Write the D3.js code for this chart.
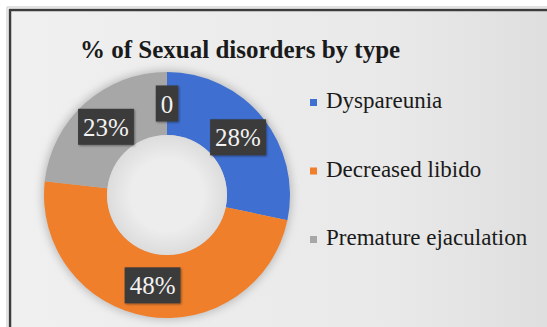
<!DOCTYPE html>
<html>
<head>
<meta charset="utf-8">
<script src="https://cdn.jsdelivr.net/npm/d3@7"></script>
<style>
  body { margin: 0; background: #fff; }
  svg { display: block; }
</style>
</head>
<body>
<div id="chart"></div>
<script>
const width = 547;
const height = 327;

const title = "% of Sexual disorders by type";
const categories = ["Dyspareunia", "Decreased libido", "Premature ejaculation", ""];
const values = [28, 48, 23, 0];
const labels = ["28%", "48%", "23%", "0"];
const colors = ["#3f6fd1", "#f07f2c", "#a7a7a7", "#a7a7a7"];

const cx = 167;
const cy = 195;
const outerR = 123;
const innerR = 60;
const font = "Liberation Serif";

const svg = d3
  .select("#chart")
  .append("svg")
  .attr("width", width)
  .attr("height", height);

const defs = svg.append("defs");

const bg = defs
  .append("linearGradient")
  .attr("id", "bg")
  .attr("x1", 0)
  .attr("x2", 1)
  .attr("y1", 0)
  .attr("y2", 0);
bg.append("stop").attr("offset", "0%").attr("stop-color", "#f0f0f0");
bg.append("stop").attr("offset", "70%").attr("stop-color", "#e9e9e9");
bg.append("stop").attr("offset", "100%").attr("stop-color", "#dedede");

const hole = defs.append("radialGradient").attr("id", "hole");
hole.append("stop").attr("offset", "60%").attr("stop-color", "#ededed");
hole.append("stop").attr("offset", "100%").attr("stop-color", "#dcdcdc");

const blur = defs
  .append("filter")
  .attr("id", "blur")
  .attr("x", "-20%")
  .attr("y", "-20%")
  .attr("width", "140%")
  .attr("height", "140%");
blur.append("feGaussianBlur").attr("stdDeviation", 4);

const boxShadow = defs.append("filter").attr("id", "boxShadow");
boxShadow
  .append("feDropShadow")
  .attr("dx", 1)
  .attr("dy", 1)
  .attr("stdDeviation", 1)
  .attr("flood-color", "#000")
  .attr("flood-opacity", 0.4);

// frame
svg
  .append("rect")
  .attr("x", 9)
  .attr("y", 9)
  .attr("width", width)
  .attr("height", height)
  .attr("fill", "url(#bg)");
svg
  .append("path")
  .attr("d", `M10,${height} V10 H${width}`)
  .attr("fill", "none")
  .attr("stroke", "#3c3c3c")
  .attr("stroke-width", 2.5);
svg
  .append("path")
  .attr("d", `M7,${height} V7 H${width}`)
  .attr("fill", "none")
  .attr("stroke", "#c8c8c8")
  .attr("stroke-width", 1);

svg
  .append("text")
  .attr("x", 80)
  .attr("y", 58)
  .attr("font-family", font)
  .attr("font-weight", "bold")
  .attr("font-size", 25)
  .attr("fill", "#1a1a1a")
  .text(title);

const pie = d3.pie().sort(null).value((d) => d);
const arcs = pie(values);

const arc = d3.arc().innerRadius(innerR).outerRadius(outerR);
const labelArc = d3
  .arc()
  .innerRadius((innerR + outerR) / 2)
  .outerRadius((innerR + outerR) / 2);

const g = svg.append("g").attr("transform", `translate(${cx},${cy})`);

// soft shadow round the ring
g.append("circle")
  .attr("r", outerR + 2)
  .attr("fill", "#bdbdbd")
  .attr("filter", "url(#blur)");

g.selectAll(".slice")
  .data(arcs)
  .join("path")
  .classed("slice", true)
  .attr("d", arc)
  .attr("fill", (d, i) => colors[i]);

g.append("circle").attr("r", innerR).attr("fill", "url(#hole)");

const label = g
  .selectAll(".label")
  .data(arcs)
  .join("g")
  .classed("label", true)
  .attr("transform", (d) => `translate(${labelArc.centroid(d)})`);

label
  .append("text")
  .attr("text-anchor", "middle")
  .attr("dy", "0.36em")
  .attr("font-family", font)
  .attr("font-size", 25)
  .attr("fill", "#f2f2f2")
  .text((d, i) => labels[i]);

label.each(function () {
  const t = d3.select(this).select("text");
  const b = t.node().getBBox();
  d3.select(this)
    .insert("rect", "text")
    .attr("x", b.x - 5)
    .attr("y", -18)
    .attr("width", b.width + 10)
    .attr("height", 36)
    .attr("fill", "#3a3a3a")
    .attr("filter", "url(#boxShadow)");
});

const legendItems = categories.filter((c) => c !== "");
const legendY = d3
  .scalePoint()
  .domain(legendItems)
  .range([108, 245]);

const legend = svg
  .selectAll(".legend")
  .data(legendItems)
  .join("g")
  .classed("legend", true)
  .attr("transform", (d) => `translate(310,${legendY(d)})`);

legend
  .append("rect")
  .attr("x", 0)
  .attr("y", -9)
  .attr("width", 7)
  .attr("height", 7)
  .attr("fill", (d, i) => colors[i]);

legend
  .append("text")
  .attr("x", 16)
  .attr("y", 0)
  .attr("font-family", font)
  .attr("font-size", 23)
  .attr("fill", "#1a1a1a")
  .text((d) => d);
</script>
</body>
</html>
